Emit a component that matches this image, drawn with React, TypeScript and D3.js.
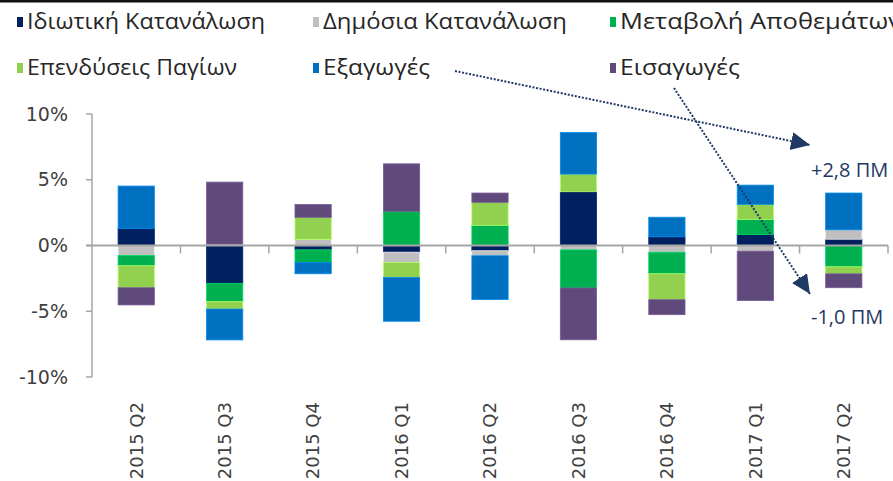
import React from "react";
import * as d3 from "d3";

const categories = ["2015 Q2", "2015 Q3", "2015 Q4", "2016 Q1", "2016 Q2", "2016 Q3", "2016 Q4", "2017 Q1", "2017 Q2"];
const privateCons = [1.29, -2.88, -0.33, -0.51, -0.40, 4.09, 0.66, 0.83, 0.48];
const publicCons = [-0.76, 0.10, 0.45, -0.78, -0.38, -0.33, -0.51, -0.43, 0.71];
const inventories = [-0.78, -1.39, -0.96, 2.60, 1.54, -2.90, -1.64, 1.16, -1.62];
const investment = [-1.67, -0.56, 1.69, -1.14, 1.74, 1.34, -1.97, 1.14, -0.53];
const exportsV = [3.23, -2.35, -0.86, -3.33, -3.33, 3.16, 1.49, 1.46, 2.80];
const importsV = [-1.31, 4.72, 0.98, 3.61, 0.71, -3.94, -1.14, -3.76, -1.06];

const seriesNames = ["Ιδιωτική Κατανάλωση", "Δημόσια Κατανάλωση", "Μεταβολή Αποθεμάτων", "Επενδύσεις Παγίων", "Εξαγωγές", "Εισαγωγές"];
const seriesKeys = ["priv", "pub", "inv", "invest", "exp", "imp"];
const seriesColors = ["#002060", "#BFBFBF", "#00B050", "#92D050", "#0070C0", "#604A7B"];
const yTicks = [-10, -5, 0, 5, 10];
const annotationTexts = ["+2,8 ΠΜ", "-1,0 ΠΜ"];

const W = 893;
const H = 481;
const plotLeft = 92;
const plotRight = 888;
const plotTop = 114;
const plotBottom = 377;

export default function App() {
  const table = categories.map((c, i) => ({
    cat: c,
    priv: privateCons[i],
    pub: publicCons[i],
    inv: inventories[i],
    invest: investment[i],
    exp: exportsV[i],
    imp: importsV[i],
  }));

  const stack = d3.stack<any>().keys(seriesKeys).offset(d3.stackOffsetDiverging);
  const layers = stack(table);

  const xOuter = d3.scaleBand<string>().domain(categories).range([plotLeft, plotRight]).padding(0);
  const x = d3.scaleBand<string>().domain(categories).range([plotLeft, plotRight]).paddingInner(0.59).paddingOuter(0.295);
  const y = d3.scaleLinear().domain([-10, 10]).range([plotBottom, plotTop]);
  const y0 = y(0);

  const axisColor = "#A6A6A6";
  const textColor = "#404040";
  const navy = "#1F3864";

  const legendCols = [17, 313, 610];
  const legendRows = [29, 75];
  const legendLens = [238, 244, 282, 210, 107, 120];

  const arrows = [
    { x1: 455, y1: 71, x2: 810, y2: 145 },
    { x1: 674, y1: 88, x2: 810, y2: 294 },
  ];

  return (
    <svg width={W} height={H} style={{ position: "fixed", left: 0, top: 0, background: "#fff" }}>
      <defs>
        <marker id="arrowHead" markerUnits="userSpaceOnUse" markerWidth="22" markerHeight="22" refX="19" refY="9" orient="auto">
          <path d="M0,0 L19,9 L0,18 Z" fill={navy} />
        </marker>
        <clipPath id="clipAll">
          <rect x={0} y={0} width={W} height={H} />
        </clipPath>
      </defs>
      <rect x={0} y={0} width={W} height={H} fill="#fff" />
      <rect x={0} y={0} width={W} height={2.5} fill="#111" />

      <g clipPath="url(#clipAll)">
        {seriesNames.map((name, i) => {
          const col = i % 3;
          const row = Math.floor(i / 3);
          const lx = legendCols[col];
          const ly = legendRows[row];
          return (
            <g key={name}>
              <rect x={lx} y={ly - 12} width={6} height={10} fill={seriesColors[i]} />
              <text
                x={lx + 10}
                y={ly}
                fontFamily="'Open Sans', sans-serif"
                fontSize={22}
                fill="#262626"
                textLength={legendLens[i]}
                lengthAdjust="spacingAndGlyphs"
              >
                {name}
              </text>
            </g>
          );
        })}
      </g>

      <line x1={plotLeft} x2={plotLeft} y1={y(10)} y2={y(-10)} stroke={axisColor} strokeWidth={1.5} />
      {yTicks.map((t) => (
        <g key={t}>
          <line x1={plotLeft - 6} x2={plotLeft} y1={y(t)} y2={y(t)} stroke={axisColor} strokeWidth={1.5} />
          <text
            x={68}
            y={y(t)}
            dy="0.35em"
            textAnchor="end"
            fontFamily="'DejaVu Sans', sans-serif"
            fontSize={19}
            fill={textColor}
          >
            {`${t}%`}
          </text>
        </g>
      ))}

      {layers.map((layer, li) => (
        <g key={layer.key}>
          {layer.map((d: any, i: number) => {
            const top = y(Math.max(d[0], d[1]));
            const bot = y(Math.min(d[0], d[1]));
            const h = bot - top;
            if (h <= 0.01) return null;
            const c = seriesColors[li];
            return (
              <rect
                key={i}
                x={x(categories[i])!}
                y={top}
                width={x.bandwidth()}
                height={h}
                fill={c}
                stroke={d3.color(c)!.brighter(0.6).formatHex()}
                strokeWidth={0.8}
              />
            );
          })}
        </g>
      ))}

      <line x1={plotLeft - 6} x2={plotRight} y1={y0} y2={y0} stroke={axisColor} strokeWidth={2} />
      {categories.map((c) => {
        const bx = xOuter(c)! + xOuter.bandwidth();
        return <line key={c} x1={bx} x2={bx} y1={y0} y2={y0 + 8} stroke={axisColor} strokeWidth={1.5} />;
      })}

      {categories.map((c) => {
        const cx = xOuter(c)! + xOuter.bandwidth() / 2;
        return (
          <text
            key={c}
            transform={`translate(${cx},402) rotate(-90)`}
            dy="0.35em"
            textAnchor="end"
            fontFamily="'DejaVu Sans', sans-serif"
            fontSize={18}
            fill={textColor}
          >
            {c}
          </text>
        );
      })}

      {arrows.map((a, i) => (
        <line
          key={i}
          x1={a.x1}
          y1={a.y1}
          x2={a.x2}
          y2={a.y2}
          stroke={navy}
          strokeWidth={2}
          strokeDasharray="2 1.6"
          markerEnd="url(#arrowHead)"
        />
      ))}
      <text x={811} y={177} fontFamily="'Open Sans', sans-serif" fontSize={20} fill={navy}>
        {annotationTexts[0]}
      </text>
      <text x={811} y={324} fontFamily="'Open Sans', sans-serif" fontSize={20} fill={navy}>
        {annotationTexts[1]}
      </text>
    </svg>
  );
}
